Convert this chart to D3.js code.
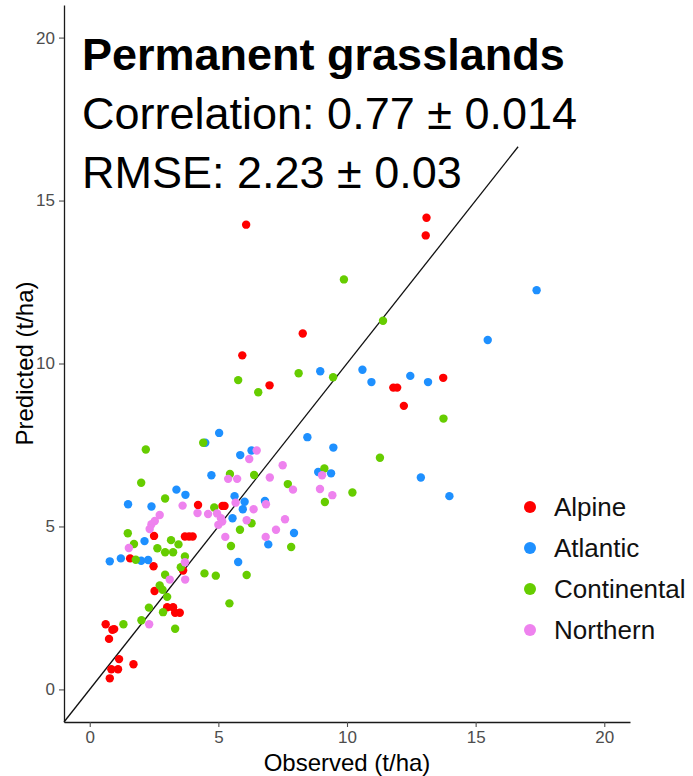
<!DOCTYPE html>
<html>
<head>
<meta charset="utf-8">
<script src="https://cdn.jsdelivr.net/npm/d3@7"></script>
<style>
  body { margin: 0; background: #fff; }
  svg { display: block; font-family: "Liberation Sans", Arial, sans-serif; }
</style>
</head>
<body>
<script>
// regions in legend order
var regions = ["Alpine", "Atlantic", "Continental", "Northern"];
var regionColors = ["#ff0000", "#1e90ff", "#66cd00", "#ee82ee"];

// observed / predicted (t/ha)
var alpine = [
  [6.08,14.26],[13.09,14.47],[13.06,13.93],[8.28,10.92],[5.93,10.25],[6.99,9.33],[11.8,9.26],[11.95,9.26],
  [13.74,9.56],[12.21,8.70],[4.21,5.66],[5.16,5.63],[5.24,5.63],[2.50,4.71],[3.70,4.69],[3.86,4.69],[4.0,4.69],
  [1.57,4.02],[2.48,3.78],[3.63,3.65],[2.52,3.02],[3.01,2.52],[3.24,2.52],[3.32,2.35],[3.50,2.35],[0.62,2.0],
  [0.88,1.83],[0.95,1.85],[0.75,1.55],[1.14,0.93],[1.70,0.77],[0.84,0.62],[1.10,0.62],[0.78,0.34]
];
var atlantic = [
  [17.37,12.25],[15.47,10.72],[8.96,9.76],[10.60,9.81],[10.95,9.43],[12.46,9.62],[13.15,9.43],[12.87,6.50],
  [13.98,5.93],[5.03,7.87],[4.49,7.57],[8.46,7.74],[9.47,7.42],[5.85,7.19],[6.29,7.33],[4.73,6.57],[8.88,6.67],
  [9.38,6.63],[3.37,6.13],[3.72,5.97],[5.63,5.93],[6.02,5.76],[6.81,5.78],[5.95,5.53],[1.49,5.68],[2.40,5.61],
  [5.55,5.25],[7.94,4.80],[6.94,4.45],[5.77,3.91],[2.13,4.55],[0.78,3.93],[1.21,4.02],[2.0,3.95],[2.27,3.97]
];
var continental = [
  [9.88,12.58],[11.40,11.31],[5.77,9.49],[6.55,9.12],[8.12,9.70],[9.46,9.58],[13.75,8.31],[11.28,7.11],
  [4.41,7.57],[2.18,7.36],[5.45,6.61],[6.39,6.58],[2.0,6.34],[9.12,6.78],[7.70,6.30],[10.21,6.04],[9.14,5.75],
  [2.93,5.86],[4.84,5.58],[6.29,5.10],[5.84,4.90],[5.49,4.40],[7.83,4.37],[4.46,3.56],[4.90,3.49],[6.10,3.51],
  [5.43,2.64],[1.48,4.79],[1.72,4.46],[3.16,4.58],[3.45,4.45],[2.63,4.33],[2.93,4.21],[3.24,4.21],[3.70,4.08],
  [1.79,3.98],[3.54,3.75],[2.93,3.52],[2.72,3.19],[2.83,3.06],[3.01,2.84],[2.30,2.51],[2.85,2.37],[2.01,2.12],
  [1.31,2.0],[3.32,1.86]
];
var northern = [
  [6.49,7.33],[6.20,7.07],[5.38,6.46],[5.73,6.46],[7.50,6.88],[7.0,6.50],[9.03,6.57],[7.90,6.13],[8.95,6.15],
  [9.43,5.96],[6.85,5.68],[6.37,5.53],[5.67,5.73],[3.61,5.64],[4.19,5.41],[4.60,5.38],[4.95,5.40],[5.1,5.25],
  [5.0,5.05],[5.15,5.15],[6.10,5.19],[7.59,5.22],[7.24,4.90],[5.27,4.68],[6.84,4.68],[2.72,5.35],[2.53,5.17],
  [2.40,5.07],[2.33,4.92],[1.52,4.34],[3.70,3.90],[3.71,3.37],[3.11,3.37],[2.31,2.0]
];
var seriesData = [alpine, atlantic, continental, northern];

var xTicks = [0, 5, 10, 15, 20];
var yTicks = [0, 5, 10, 15, 20];
var oneToOne = [-1, 16.65]; // visible part of the 1:1 line

var titleLines = ["Permanent grasslands", "Correlation: 0.77 \u00b1 0.014", "RMSE: 2.23 \u00b1 0.03"];

var W = 693, H = 776;
var margin = {top: 5, right: 63, bottom: 54, left: 64};

var svg = d3.select("body").append("svg")
    .attr("width", W)
    .attr("height", H);

var x = d3.scaleLinear().domain([-1, 21]).range([margin.left, W - margin.right]);
var y = d3.scaleLinear().domain([-1, 21]).range([H - margin.bottom, margin.top]);

// axes
var xAxis = svg.append("g")
    .attr("transform", "translate(0," + (H - margin.bottom) + ")")
    .call(d3.axisBottom(x).tickValues(xTicks).tickSize(5).tickPadding(4).tickSizeOuter(0));
var yAxis = svg.append("g")
    .attr("transform", "translate(" + margin.left + ",0)")
    .call(d3.axisLeft(y).tickValues(yTicks).tickSize(5).tickPadding(4).tickSizeOuter(0));

[xAxis, yAxis].forEach(function(a){
    a.select(".domain").attr("stroke", "#1a1a1a").attr("stroke-width", 1.3);
    a.selectAll(".tick line").attr("stroke", "#4d4d4d").attr("stroke-width", 1.1);
    a.selectAll(".tick text").attr("fill", "#4d4d4d").style("font-size", "17px")
        .style("font-family", "'Liberation Sans', Arial, sans-serif");
});

// axis titles
svg.append("text")
    .attr("x", (x(-1) + x(21)) / 2)
    .attr("y", 771)
    .attr("text-anchor", "middle")
    .style("font-size", "24px")
    .text("Observed (t/ha)");

svg.append("text")
    .attr("transform", "translate(33," + ((y(-1) + y(21)) / 2) + ") rotate(-90)")
    .attr("text-anchor", "middle")
    .style("font-size", "24px")
    .text("Predicted (t/ha)");

// 1:1 line
svg.append("line")
    .attr("x1", x(oneToOne[0])).attr("y1", y(oneToOne[0]))
    .attr("x2", x(oneToOne[1])).attr("y2", y(oneToOne[1]))
    .attr("stroke", "#111")
    .attr("stroke-width", 1.3);

// points
seriesData.forEach(function(pts, i){
    svg.append("g")
        .selectAll("circle")
        .data(pts)
        .enter()
        .append("circle")
        .attr("cx", function(d){ return x(d[0]); })
        .attr("cy", function(d){ return y(d[1]); })
        .attr("r", 4.2)
        .attr("fill", regionColors[i]);
});

// annotation
svg.append("g")
    .selectAll("text")
    .data(titleLines)
    .enter()
    .append("text")
    .attr("x", 82)
    .attr("y", function(d, i){ return 70 + i * 59; })
    .style("font-size", "45px")
    .style("font-weight", function(d, i){ return i == 0 ? "bold" : "normal"; })
    .attr("fill", "#000")
    .text(function(d){ return d; });

// legend
var legend = svg.append("g")
    .selectAll("g")
    .data(regions)
    .enter()
    .append("g")
    .attr("transform", function(d, i){ return "translate(530," + (507 + i * 41) + ")"; });

legend.append("circle")
    .attr("r", 6)
    .attr("fill", function(d, i){ return regionColors[i]; });

legend.append("text")
    .attr("x", 24)
    .attr("dy", "0.35em")
    .style("font-size", "26px")
    .attr("fill", "#111")
    .text(function(d){ return d; });
</script>
</body>
</html>
